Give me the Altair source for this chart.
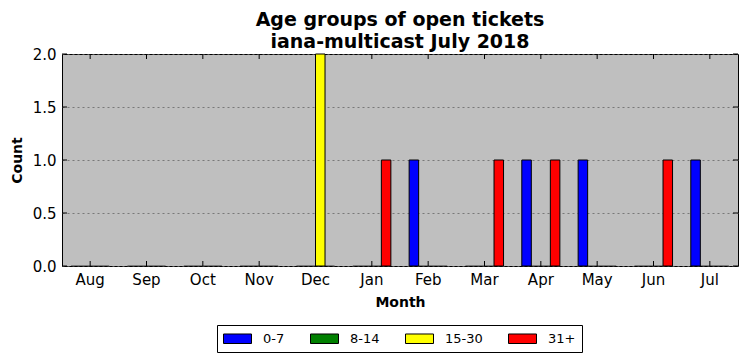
import altair as alt
import pandas as pd

months = ["Aug", "Sep", "Oct", "Nov", "Dec", "Jan", "Feb", "Mar", "Apr", "May", "Jun", "Jul"]
groups = ["0-7", "8-14", "15-30", "31+"]
colors = ["#0000ff", "#008000", "#ffff00", "#ff0000"]
v_0_7 = [0, 0, 0, 0, 0, 0, 1, 0, 1, 1, 0, 1]
v_8_14 = [0, 0, 0, 0, 0, 0, 0, 0, 0, 0, 0, 0]
v_15_30 = [0, 0, 0, 0, 2, 0, 0, 0, 0, 0, 0, 0]
v_31 = [0, 0, 0, 0, 0, 1, 0, 1, 1, 0, 1, 0]
y_ticks = [0.0, 0.5, 1.0, 1.5, 2.0]

W, H = 676, 212

rows = []
for g, vals in zip(groups, [v_0_7, v_8_14, v_15_30, v_31]):
    for m, v in zip(months, vals):
        rows.append({"month": m, "group": g, "count": v})
df = pd.DataFrame(rows)
mdf = pd.DataFrame({"month": months})
ydf = pd.DataFrame({"v": y_ticks})

xscale = alt.Scale(domain=months, paddingInner=0, paddingOuter=0)
yscale = alt.Scale(domain=[0, 2], nice=False)

bars = alt.Chart(df).mark_bar(stroke="black").encode(
    x=alt.X("month:N", scale=xscale, sort=months,
            axis=alt.Axis(title="Month", labelAngle=0, ticks=False, domain=False,
                          labelPadding=6, titlePadding=8)),
    xOffset=alt.XOffset("group:N", sort=groups,
                        scale=alt.Scale(paddingInner=0, paddingOuter=0.96)),
    y=alt.Y("count:Q", scale=yscale,
            axis=alt.Axis(title="Count", values=y_ticks, format=".1f", ticks=False,
                          domain=False, labelPadding=6, titlePadding=8,
                          grid=True, gridDash=[2, 3], gridColor="#666666", gridWidth=0.8)),
    strokeWidth=alt.condition("datum.count == 0", alt.value(0.4), alt.value(1)),
    color=alt.Color("group:N", sort=groups,
                    scale=alt.Scale(domain=groups, range=colors),
                    legend=alt.Legend(title=None, orient="none", legendX=155, legendY=271,
                                      direction="horizontal", columns=4,
                                      symbolType="M-1,-0.68H3V0.68H-1Z", symbolSize=196,
                                      symbolStrokeColor="black", symbolStrokeWidth=1,
                                      labelFontSize=13, labelOffset=25, columnPadding=23,
                                      padding=6, strokeColor="black", fillColor="white",
                                      labelFont="DejaVu Sans", labelColor="black")),
)

xt_bottom = alt.Chart(mdf).mark_rule(color="black", strokeWidth=1).encode(
    x=alt.X("month:N", scale=xscale, sort=months), y=alt.value(H), y2=alt.value(H - 5))
xt_top = alt.Chart(mdf).mark_rule(color="black", strokeWidth=1).encode(
    x=alt.X("month:N", scale=xscale, sort=months), y=alt.value(0), y2=alt.value(5))
yt_left = alt.Chart(ydf).mark_rule(color="black", strokeWidth=1).encode(
    y=alt.Y("v:Q", scale=yscale), x=alt.value(0), x2=alt.value(5))
yt_right = alt.Chart(ydf).mark_rule(color="black", strokeWidth=1).encode(
    y=alt.Y("v:Q", scale=yscale), x=alt.value(W - 5), x2=alt.value(W))

chart = alt.layer(bars, xt_bottom, xt_top, yt_left, yt_right).properties(
    width=W, height=H,
    title=alt.TitleParams(["Age groups of open tickets", "iana-multicast July 2018"],
                          fontSize=19, fontWeight="bold", font="DejaVu Sans",
                          color="black", frame="group", anchor="middle",
                          lineHeight=22, offset=-5),
    padding={"left": 2, "top": 3, "right": 0, "bottom": 0},
).configure_view(fill="#bfbfbf", stroke="black", strokeWidth=1).configure_axis(
    labelFont="DejaVu Sans", labelFontSize=15, labelColor="black",
    titleFont="DejaVu Sans", titleFontSize=14, titleFontWeight="bold", titleColor="black",
)

chart.save("out.html", embed_options={"renderer": "svg", "actions": False})
